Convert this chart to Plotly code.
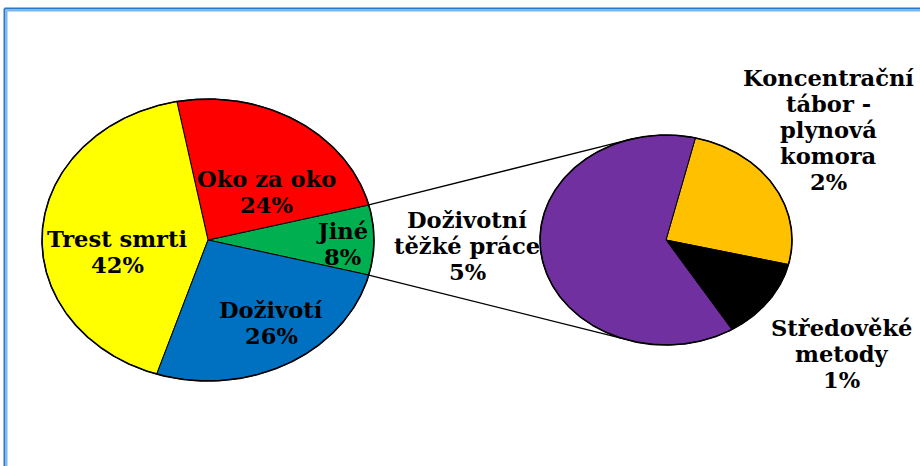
import numpy as np
import plotly.graph_objects as go

# ---------------- data ----------------
main_labels = ["Jiné", "Oko za oko", "Trest smrti", "Doživotí"]
main_values = [8, 24, 42, 26]
main_colors = ["#00B050", "#FF0000", "#FFFF00", "#0070C0"]

sub_labels = ["Koncentrační\ntábor -\nplynová\nkomora", "Středověké\nmetody", "Doživotní\ntěžké práce"]
sub_values = [2, 1, 5]
sub_colors = ["#FFC000", "#000000", "#7030A0"]

# ---------------- layout constants ----------------
W, H = 920, 466
MAIN = dict(cx=208, cy=240, rx=166, ry=141)
SUB = dict(cx=666, cy=240, rx=126, ry=105)
SUB_START = 76.5          # rotation of the secondary pie (deg), clockwise
main_label_pos = [(0.81, -2), (0.49, 44), (0.555, 189), (0.70, -57)]
sub_label_pos = [(1.66, 39), (1.77, -38), (1.58, 182)]
CONNECT_TOP, CONNECT_BOT = 105, -110
FONT = dict(family="DejaVu Serif", size=22.6, color="black", weight="bold")
PITCH = 26

total = sum(main_values)


def pt(e, ang_deg, r=1.0):
    a = np.radians(ang_deg)
    return e["cx"] + r * e["rx"] * np.cos(a), e["cy"] - r * e["ry"] * np.sin(a)


def wedge(e, a0, a1):
    n = max(int(abs(a1 - a0)) * 2, 4)
    angs = np.linspace(a0, a1, n)
    xs, ys = pt(e, angs)
    return [e["cx"], *xs, e["cx"]], [e["cy"], *ys, e["cy"]]


fig = go.Figure()
annotations = []


def add_label(x, y, text):
    lines = text.split("\n")
    n = len(lines)
    for i, ln in enumerate(lines):
        annotations.append(dict(
            x=x, y=y + (i - (n - 1) / 2) * PITCH, xref="x", yref="y",
            text=ln, showarrow=False, xanchor="center", yanchor="middle",
            font=FONT))


# main pie (counter-clockwise, first slice centred on the right)
a = -main_values[0] / total * 360 / 2
for lab, v, c, (rf, ang) in zip(main_labels, main_values, main_colors, main_label_pos):
    span = v / total * 360
    xs, ys = wedge(MAIN, a, a + span)
    fig.add_trace(go.Scatter(x=xs, y=ys, mode="lines", fill="toself", fillcolor=c,
                             line=dict(color="black", width=1), hoverinfo="skip"))
    lx, ly = pt(MAIN, ang, rf)
    add_label(lx, ly, f"{lab}\n{round(v / total * 100)}%")
    a += span

# secondary pie (clockwise)
sub_total = sum(sub_values)
a = SUB_START
for lab, v, c, (rf, ang) in zip(sub_labels, sub_values, sub_colors, sub_label_pos):
    span = v / sub_total * 360
    xs, ys = wedge(SUB, a, a - span)
    fig.add_trace(go.Scatter(x=xs, y=ys, mode="lines", fill="toself", fillcolor=c,
                             line=dict(color="black", width=1), hoverinfo="skip"))
    lx, ly = pt(SUB, ang, rf)
    add_label(lx, ly, f"{lab}\n{round(v / total * 100)}%")
    a -= span

# outlines
for e in (MAIN, SUB):
    angs = np.linspace(0, 360, 721)
    xs, ys = pt(e, angs)
    fig.add_trace(go.Scatter(x=xs, y=ys, mode="lines",
                             line=dict(color="black", width=1.6), hoverinfo="skip"))

# connector lines
half = main_values[0] / total * 360 / 2
for ma, sa in ((half, CONNECT_TOP), (-half, CONNECT_BOT)):
    x0, y0 = pt(MAIN, ma)
    x1, y1 = pt(SUB, sa)
    fig.add_trace(go.Scatter(x=[x0, x1], y=[y0, y1], mode="lines",
                             line=dict(color="black", width=1.3), hoverinfo="skip"))

# frame
shapes = [
    dict(type="line", xref="x", yref="y", x0=4.5, y0=H + 5, x1=4.5, y1=8.5,
         line=dict(color="#2A78CC", width=2)),
    dict(type="line", xref="x", yref="y", x0=4.5, y0=8.5, x1=W + 5, y1=8.5,
         line=dict(color="#2A78CC", width=2)),
    dict(type="line", xref="x", yref="y", x0=6.5, y0=H + 5, x1=6.5, y1=10.5,
         line=dict(color="#7DB6EA", width=2)),
    dict(type="line", xref="x", yref="y", x0=6.5, y0=10.5, x1=W + 5, y1=10.5,
         line=dict(color="#7DB6EA", width=2)),
]

fig.update_layout(
    width=W, height=H, margin=dict(l=0, r=0, t=0, b=0),
    paper_bgcolor="white", plot_bgcolor="white", showlegend=False,
    xaxis=dict(range=[0, W], visible=False, fixedrange=True),
    yaxis=dict(range=[H, 0], visible=False, fixedrange=True),
    annotations=annotations, shapes=shapes,
)

fig.write_html("out.html", config={"displayModeBar": False},
               post_script="document.body.style.margin='0';document.body.style.overflow='hidden';")
